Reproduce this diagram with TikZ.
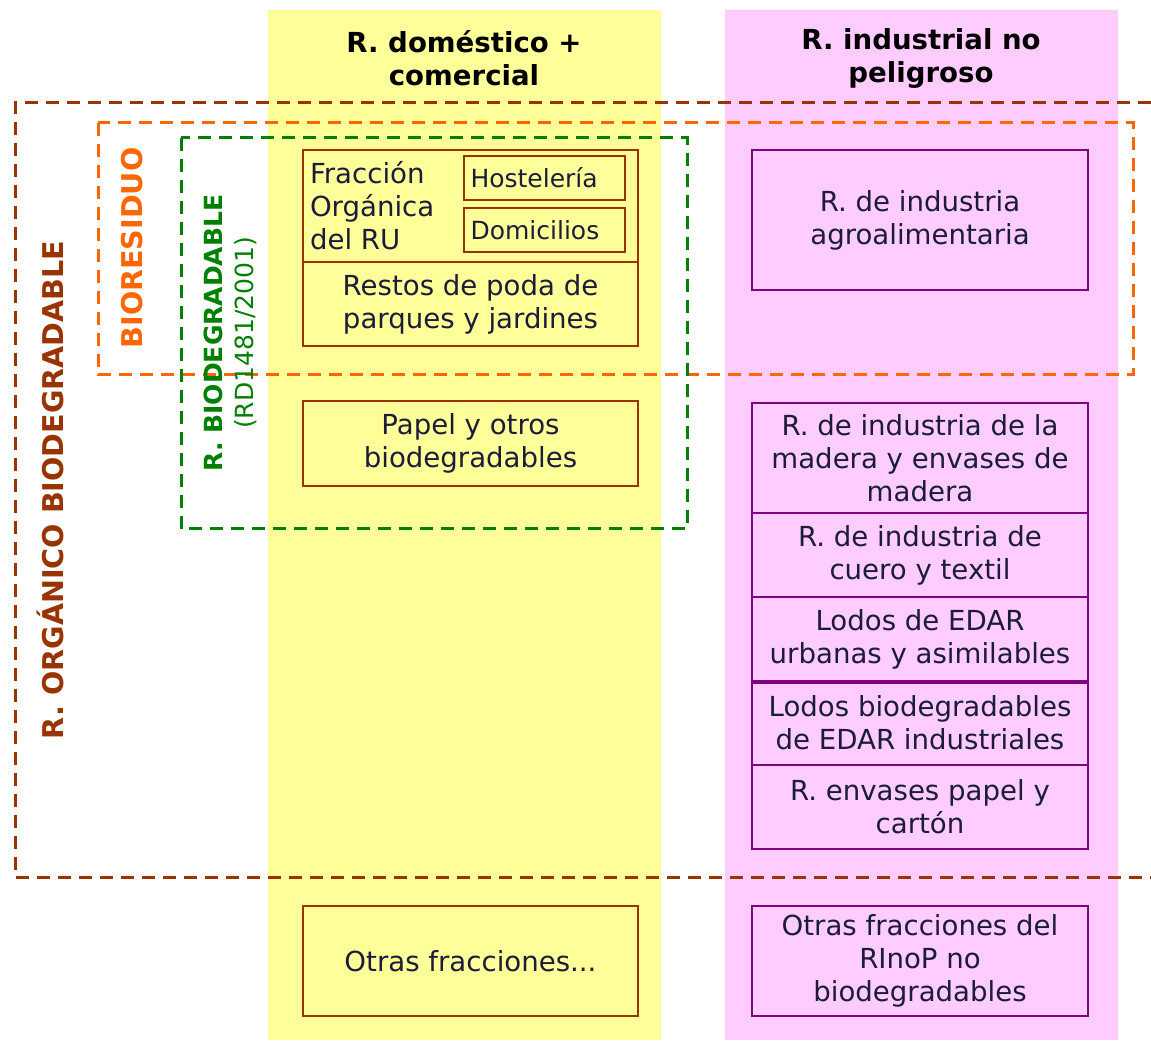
\documentclass[tikz,border=0pt]{standalone}
\usepackage{fontspec}
\setmainfont{DejaVu Sans}
\usetikzlibrary{positioning}

\definecolor{amarillo}{HTML}{FFFF99}
\definecolor{rosa}{HTML}{FFCCFF}
\definecolor{marron}{HTML}{993300}
\definecolor{naranja}{HTML}{FF6600}
\definecolor{verde}{HTML}{008000}
\definecolor{morado}{HTML}{800080}
\definecolor{texto}{HTML}{1C1C38}

\begin{document}
\begin{tikzpicture}[x=0.5pt,y=-0.5pt,
  caja/.style={draw=marron,line width=1pt,align=center,text=texto,inner sep=0pt,
    font=\fontsize{13.8}{16.5}\selectfont},
  cajarosa/.style={caja,draw=morado},
  cajita/.style={caja,minimum width=80.5pt,minimum height=22pt,text width=74pt,align=left,
    font=\fontsize{12.5}{15}\selectfont},
  cabecera/.style={align=center,font=\bfseries\fontsize{13.8}{16.5}\selectfont},
  marco/.style={line width=1.5pt,dash pattern=on 6.5pt off 4pt},
  etiqueta/.style={rotate=90,align=center,font=\bfseries\fontsize{14.3}{16}\selectfont}]

\useasboundingbox (0,0) rectangle (1151,1042);

% columnas
\fill[amarillo] (268,10) rectangle (661,1040);
\fill[rosa] (725,10) rectangle (1118,1040);

\node[cabecera] (cabdom) at (464,58) {R. doméstico +\\comercial};
\node[cabecera] (cabind) at (921,58) {R. industrial no\\peligroso};

% residuo domestico + comercial
\node[caja,minimum width=167.5pt,minimum height=56pt] (foru) at (470.5,206) {};
\node[caja,draw=none,align=left,anchor=west] (forutxt) at (309,206) {Fracción\\Orgánica\\del RU};
\node[cajita] (host) at (544.5,178) {Hostelería};
\node[cajita] (domi) at (544.5,230) {Domicilios};
\node[caja,minimum width=167.5pt,minimum height=42pt] (poda) at (470.5,304) {Restos de poda de\\parques y jardines};
\node[caja,minimum width=167.5pt,minimum height=42.5pt] (papel) at (470.5,443.5) {Papel y otros\\biodegradables};
\node[caja,minimum width=167.5pt,minimum height=55pt] (otras) at (470.5,961) {Otras fracciones...};

% residuo industrial
\node[cajarosa,minimum width=168pt,minimum height=70pt] (agro) at (920,220) {R. de industria\\agroalimentaria};
\node[cajarosa,minimum width=168pt,minimum height=55pt] (madera) at (920,458) {R. de industria de la\\madera y envases de\\madera};
\node[cajarosa,minimum width=168pt,minimum height=42pt] (cuero) at (920,555) {R. de industria de\\cuero y textil};
\node[cajarosa,minimum width=168pt,minimum height=42pt] (lodosu) at (920,639) {Lodos de EDAR\\urbanas y asimilables};
\node[cajarosa,minimum width=168pt,minimum height=42pt] (lodosi) at (920,723) {Lodos biodegradables\\de EDAR industriales};
\node[cajarosa,minimum width=168pt,minimum height=42pt] (envases) at (920,807) {R. envases papel y\\cartón};
\draw[morado,line width=1.5pt] (lodosu.south west) -- (lodosu.south east);
\node[cajarosa,minimum width=168pt,minimum height=55pt] (rinop) at (920,961) {Otras fracciones del\\RInoP no\\biodegradables};

% marcos
\draw[marco,marron] (1151,103) -- (15,103) -- (15,877) -- (1151,877);
\draw[marco,naranja] (98,123) rectangle (1133,375);
\draw[marco,verde] (181,138) rectangle (687,529);

\node[etiqueta,text=marron] (lorg) at (50,490) {R. ORGÁNICO BIODEGRADABLE};
\node[etiqueta,text=naranja] (lbio) at (132,248) {BIORESIDUO};
\node[etiqueta,text=verde,font=\fontsize{12.5}{15.5}\selectfont] (lbiod) at (230,333) {\textbf{R. BIODEGRADABLE}\\(RD1481/2001)};

\end{tikzpicture}
\end{document}
